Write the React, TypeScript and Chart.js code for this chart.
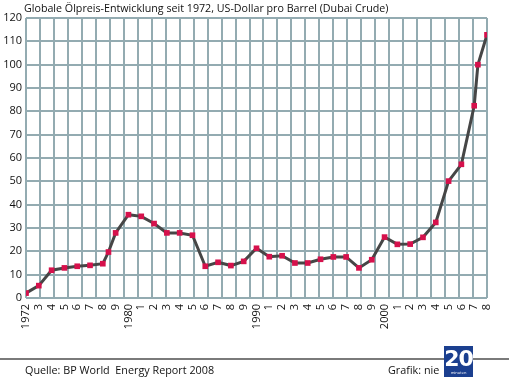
import React, { useEffect, useRef } from "react";
import { Chart, registerables } from "chart.js";

Chart.register(...registerables);

const years = [
  1972, 1973, 1974, 1975, 1976, 1977, 1978, 1978.44, 1979, 1980, 1981, 1982, 1983,
  1984, 1985, 1986, 1987, 1988, 1989, 1990, 1991, 1992, 1993, 1994, 1995, 1996,
  1997, 1998, 1999, 2000, 2001, 2002, 2003, 2004, 2005, 2006, 2007, 2007.29, 2008,
];
const prices = [
  2.1, 5.3, 11.9, 12.9, 13.6, 14.0, 14.7, 19.7, 27.9, 35.7, 35.0, 31.9, 27.9,
  27.9, 26.9, 13.6, 15.3, 13.9, 15.7, 21.3, 17.7, 18.1, 15.0, 15.0, 16.6, 17.6,
  17.6, 12.9, 16.4, 26.1, 23.0, 23.1, 26.0, 32.4, 50.1, 57.3, 82.4, 100.0, 112.8,
];
const tickYears = [
  1972, 1973, 1974, 1975, 1976, 1977, 1978, 1979, 1980, 1981, 1982, 1983, 1984,
  1985, 1986, 1987, 1988, 1989, 1990, 1991, 1992, 1993, 1994, 1995, 1996, 1997,
  1998, 1999, 2000, 2001, 2002, 2003, 2004, 2005, 2006, 2007, 2008,
];
const tickLabels = [
  "1972", "3", "4", "5", "6", "7", "8", "9", "1980", "1", "2", "3", "4",
  "5", "6", "7", "8", "9", "1990", "1", "2", "3", "4", "5", "6", "7",
  "8", "9", "2000", "1", "2", "3", "4", "5", "6", "7", "8",
];
const gridColumns = 33;
const yMin = 0;
const yMax = 120;
const yStep = 10;

const TITLE = "Globale Ölpreis-Entwicklung seit 1972, US-Dollar pro Barrel (Dubai Crude)";
const SOURCE = "Quelle: BP World  Energy Report 2008";
const CREDIT = "Grafik: nie";

const FONT = "'Open Sans', sans-serif";
const GRID = "#93abb1";

export default function App() {
  const ref = useRef<HTMLCanvasElement | null>(null);

  useEffect(() => {
    document.body.style.margin = "0";
    const canvas = ref.current;
    if (!canvas) return;
    const chart = new Chart(canvas, {
      type: "line",
      data: {
        datasets: [
          {
            data: years.map((y, i) => ({ x: y, y: prices[i] })),
            borderColor: "#464646",
            borderWidth: 3,
            pointStyle: "rect",
            pointRadius: 4,
            pointBorderWidth: 0,
            pointBackgroundColor: "#d6114c",
            pointBorderColor: "#d6114c",
            tension: 0,
            xAxisID: "x",
            yAxisID: "y",
          },
        ],
      },
      options: {
        responsive: false,
        animation: false,
        devicePixelRatio: 1,
        layout: { padding: { left: 0, right: 22, top: 18, bottom: 0 } },
        plugins: {
          legend: { display: false },
          title: { display: false },
          tooltip: { enabled: false },
        },
        scales: {
          xg: {
            type: "linear",
            position: "top",
            min: 0,
            max: gridColumns,
            ticks: { display: false, stepSize: 1 },
            grid: { color: GRID, lineWidth: 2, drawTicks: false },
            border: { display: false },
            afterFit: (s: any) => {
              s.height = 0;
            },
          },
          x: {
            type: "linear",
            position: "bottom",
            min: tickYears[0],
            max: tickYears[tickYears.length - 1],
            afterBuildTicks: (s: any) => {
              s.ticks = tickYears.map((v) => ({ value: v }));
            },
            ticks: {
              autoSkip: false,
              maxRotation: 90,
              minRotation: 90,
              padding: 6,
              color: "#111",
              font: { family: FONT, size: 11 },
              callback: (v: any) => {
                const i = tickYears.indexOf(Number(v));
                return i >= 0 ? tickLabels[i] : "";
              },
            },
            grid: { display: false, drawTicks: false },
            border: { display: false },
            afterFit: (s: any) => {
              s.height = 84;
            },
          },
          y: {
            type: "linear",
            min: yMin,
            max: yMax,
            ticks: {
              stepSize: yStep,
              padding: 4,
              color: "#111",
              font: { family: FONT, size: 11 },
            },
            grid: { color: GRID, lineWidth: 2, drawTicks: false },
            border: { display: false },
            afterFit: (s: any) => {
              s.width = 26;
            },
          },
        },
      },
    });
    return () => chart.destroy();
  }, []);

  return (
    <div
      style={{
        position: "relative",
        width: 509,
        height: 382,
        background: "#fff",
        overflow: "hidden",
        fontFamily: FONT,
        color: "#111",
      }}
    >
      <canvas ref={ref} width={509} height={382} style={{ position: "absolute", left: 0, top: 0 }} />
      <div style={{ position: "absolute", left: 24, top: 0, fontSize: 10.7, lineHeight: "16px", whiteSpace: "pre" }}>
        {TITLE}
      </div>
      <div style={{ position: "absolute", left: 0, top: 358, width: 509, height: 1.5, background: "#7a7a7a" }} />
      <div style={{ position: "absolute", left: 25, top: 362, fontSize: 10.8, lineHeight: "16px", whiteSpace: "pre" }}>
        {SOURCE}
      </div>
      <div style={{ position: "absolute", left: 388, top: 362, fontSize: 10.8, lineHeight: "16px", whiteSpace: "pre" }}>
        {CREDIT}
      </div>
      <div
        style={{
          position: "absolute",
          left: 444,
          top: 346,
          width: 29,
          height: 31,
          background: "#1b3f8f",
          color: "#fff",
          textAlign: "center",
          overflow: "hidden",
        }}
      >
        <div style={{ fontSize: 22, fontWeight: 800, lineHeight: "25px", letterSpacing: -1, fontFamily: "'DejaVu Sans', sans-serif" }}>20</div>
        <div style={{ fontSize: 4, lineHeight: "4px" }}>minuten</div>
      </div>
    </div>
  );
}
